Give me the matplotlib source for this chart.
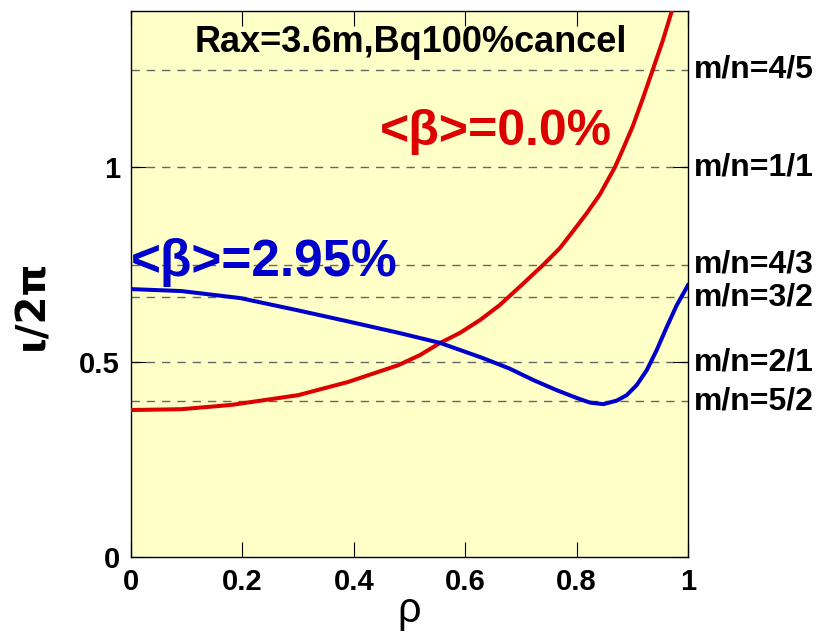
import matplotlib
matplotlib.use("Agg")
import matplotlib.pyplot as plt

plt.rcParams['font.family'] = ['Liberation Sans', 'DejaVu Sans']

# rotational transform profiles
rho_b0 = [0.0, 0.09, 0.18, 0.30, 0.39, 0.48, 0.519, 0.555, 0.591, 0.627, 0.662,
          0.698, 0.74, 0.77, 0.795, 0.818, 0.842, 0.869, 0.883, 0.901, 0.92,
          0.937, 0.955, 0.971, 0.985, 1.0]
iota_b0 = [0.377, 0.379, 0.390, 0.415, 0.449, 0.492, 0.518, 0.549, 0.575, 0.608, 0.646,
           0.693, 0.749, 0.792, 0.838, 0.881, 0.930, 1.0, 1.045, 1.105, 1.18,
           1.25, 1.325, 1.40, 1.475, 1.56]

rho_b295 = [0.0, 0.09, 0.196, 0.298, 0.387, 0.483, 0.555, 0.632, 0.68, 0.722, 0.764,
            0.80, 0.824, 0.848, 0.872, 0.89, 0.908, 0.926, 0.944, 0.962, 0.98, 1.0]
iota_b295 = [0.687, 0.682, 0.664, 0.633, 0.605, 0.574, 0.549, 0.510, 0.483, 0.454, 0.428,
             0.408, 0.396, 0.392, 0.401, 0.415, 0.441, 0.479, 0.531, 0.590, 0.646, 0.697]

# rational surfaces  iota = n/m
rat_labels = ['m/n=4/5', 'm/n=1/1', 'm/n=4/3', 'm/n=3/2', 'm/n=2/1', 'm/n=5/2']
rat_values = [5 / 4, 1.0, 3 / 4, 2 / 3, 1 / 2, 2 / 5]

xticks = [0, 0.2, 0.4, 0.6, 0.8, 1]
xticklabels = ['0', '0.2', '0.4', '0.6', '0.8', '1']
yticks = [0, 0.5, 1]
yticklabels = ['0', '0.5', '1']

fig = plt.figure(figsize=(8.19, 6.33), dpi=100)
ax = fig.add_axes([0.16, 0.12, 0.68, 0.8626])
ax.set_facecolor('#ffffc8')

for v in rat_values:
    ax.axhline(v, color='#666666', lw=1.0, ls=(0, (6, 5)), zorder=1)

ax.plot(rho_b0, iota_b0, color='#dd0000', lw=2.9, zorder=3, solid_joinstyle='round')
ax.plot(rho_b295, iota_b295, color='#0000cc', lw=2.9, zorder=3, solid_joinstyle='round')

ax.set_xlim(0, 1)
ax.set_ylim(0, 1.4)
ax.set_xticks(xticks)
ax.set_xticklabels(xticklabels)
ax.set_yticks(yticks)
ax.set_yticklabels(yticklabels)
ax.tick_params(direction='in', length=11, width=0.8, top=True, right=True,
               labelsize=21, pad=8)
for lab in ax.get_xticklabels() + ax.get_yticklabels():
    lab.set_fontweight('bold')
for sp in ax.spines.values():
    sp.set_linewidth(1.0)

for lab, v in zip(rat_labels, rat_values):
    ax.text(1.01, v, lab, transform=ax.get_yaxis_transform(), ha='left', va='center',
            fontsize=23, fontweight='bold')

ax.text(0.503, 1.32, 'Rax=3.6m,Bq100%cancel', ha='center', va='center',
        fontsize=26, fontweight='bold')
ax.text(0.0, 0.756, '<β>=2.95%', ha='left', va='center', fontsize=37,
        fontweight='bold', color='#0000cc')
ax.text(0.447, 1.09, '<β>=0.0%', ha='left', va='center', fontsize=36,
        fontweight='bold', color='#dd0000')

ax.set_xlabel('ρ', fontsize=30, labelpad=-4)
ax.set_ylabel('ι/2π', fontsize=29, fontweight='bold', family=['DejaVu Sans'])
ax.yaxis.label.set_va('center')
ax.yaxis.set_label_coords(-0.178, 0.462)

fig.savefig('out.png', dpi=100)
